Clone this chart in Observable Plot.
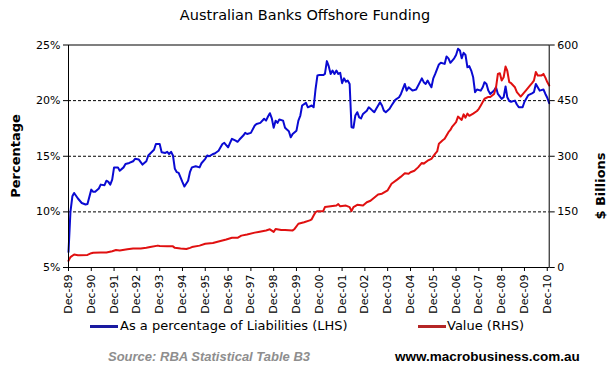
<!DOCTYPE html>
<html>
<head>
<meta charset="utf-8">
<script src="https://cdn.jsdelivr.net/npm/d3@7"></script>
<script src="https://cdn.jsdelivr.net/npm/@observablehq/plot@0.6"></script>
<style>
  html, body { margin: 0; padding: 0; background: #fff; }
  #wrap { position: relative; width: 614px; height: 374px; overflow: hidden; font-family: "DejaVu Sans", Verdana, sans-serif; }
  #chart { position: absolute; left: 0; top: 0; }
  .abs { position: absolute; white-space: nowrap; }
  .rot { transform: translate(-50%, -50%) rotate(-90deg); }
  .sw { position: absolute; height: 3px; }
</style>
</head>
<body>
<div id="wrap">
  <div id="chart"></div>
  <div class="abs" id="title" style="left:0;width:610px;top:7px;text-align:center;font-size:14.5px;color:#000;">Australian Banks Offshore Funding</div>
  <div class="abs rot" style="left:15px;top:156px;font-size:13px;font-weight:bold;color:#000;">Percentage</div>
  <div class="abs rot" style="left:600px;top:186px;font-size:13px;font-weight:bold;color:#000;">$ Billions</div>
  <div class="sw" style="left:90px;top:325px;width:28px;background:#1a1aa0;"></div>
  <div class="abs" style="left:120px;top:318px;font-size:13px;line-height:16px;color:#000;" id="leg1"></div>
  <div class="sw" style="left:418px;top:325px;width:28px;background:#b52626;"></div>
  <div class="abs" style="left:447px;top:318px;font-size:13px;line-height:16px;color:#000;" id="leg2"></div>
  <div class="abs" style="left:108px;top:349px;font-family:'Liberation Sans',Arial,sans-serif;font-size:13px;font-weight:bold;font-style:italic;color:#8e8e8e;line-height:16px;">Source: RBA Statistical Table B3</div>
  <div class="abs" style="left:395px;top:349px;font-family:'Liberation Sans',Arial,sans-serif;font-size:13.5px;font-weight:bold;color:#000;line-height:16px;">www.macrobusiness.com.au</div>
</div>
<script>
// Series names
const seriesNames = ["As a percentage of Liabilities (LHS)", "Value (RHS)"];

// Months since Dec-1989 and percentage of liabilities (LHS)
const blueMonth = [0,1,2,3,5,7,9,10,12,13,14,16,17,19,20,21,22,23,24,26,27,29,30,32,34,35,37,39,41,42,45,46,48,49,51,52,53,54,55,56,57,58,60,61,63,64,65,67,69,70,72,73,74,76,77,79,81,82,84,85,86,88,89,90,92,93,94,96,98,99,101,103,104,105,106,107,108,109,110,111,113,114,115,116,117,118,120,121,122,123,125,126,128,129,130,131,132,134,135,136,137,138,139,140,141,142,143,144,145,146,147,148,149,150,151,152,153,154,155,157,158,159,160,161,162,164,165,166,167,169,170,172,174,175,177,178,179,181,183,185,186,187,188,189,190,191,192,193,195,196,198,199,200,201,203,204,205,206,207,208,209,210,211,212,213,214,215,217,218,219,220,221,222,224,225,226,228,229,230,231,232,233,235,236,237,239,240,242,244,245,246,247,248,250,251,252,253];
const bluePct = [6.4,10.0,11.4,11.7,11.2,10.8,10.66,10.7,12.0,11.8,11.8,12.1,12.45,12.4,12.8,12.7,12.45,12.9,14.0,14.0,13.7,14.0,14.3,14.4,14.55,14.77,14.7,14.25,14.55,15.07,15.58,16.1,16.1,15.36,15.3,15.4,15.2,15.4,15.07,13.87,13.57,13.5,12.67,12.28,12.8,13.6,14.0,14.1,14.0,14.37,14.77,15.07,15.0,15.2,15.25,15.5,16.1,16.2,15.8,16.2,16.57,16.4,16.3,16.5,16.86,17.1,17.0,17.1,17.76,17.9,18.0,18.37,18.2,18.57,18.87,18.4,17.56,18.2,18.0,18.3,18.2,17.56,17.4,17.25,16.7,17.0,17.3,18.2,18.66,19.56,19.8,19.4,19.56,19.4,21.0,22.26,22.3,22.3,22.4,23.55,23.1,22.4,22.7,22.4,22.7,22.4,22.5,21.57,22.0,21.7,21.8,21.5,17.6,17.56,18.66,18.96,18.5,18.4,18.8,19.1,19.4,19.26,19.1,18.96,19.26,19.86,19.56,19.1,18.96,19.26,19.56,20.07,20.3,20.6,21.5,20.9,21.2,20.9,21.0,21.66,22.0,21.66,21.5,21.8,21.5,21.2,22.0,22.4,23.25,23.4,23.3,23.97,23.8,23.4,23.8,24.1,24.66,24.5,23.8,24.3,24.1,23.0,23.1,22.7,22.1,20.76,21.0,20.9,21.2,21.66,21.5,20.9,20.6,20.9,21.2,20.6,20.16,20.3,21.27,20.3,19.97,19.9,20.0,19.65,19.4,19.4,19.9,20.5,20.66,20.76,21.5,21.2,20.9,21.0,20.6,20.26,19.77];

// Months since Dec-1989 and value in $ billions (RHS)
const redMonth = [0,1,3,5,6,10,12,13,17,20,23,25,27,31,34,38,41,43,47,48,52,55,56,59,62,64,65,69,72,76,79,83,86,89,91,94,98,100,104,106,108,109,112,114,118,119,121,124,127,128,129,130,131,134,135,138,141,142,143,146,148,149,150,152,155,157,159,163,165,168,170,173,175,177,179,180,182,184,186,187,189,191,193,194,195,197,198,200,201,202,204,205,207,208,209,210,211,213,215,216,217,219,221,222,224,225,226,227,228,229,230,231,232,233,235,236,238,239,241,243,244,245,246,247,249,250,251,252,253];
const redValue = [18,28,35,33,33,34,38.6,40,40.5,40.5,44,47,46,49,51,51,53,55,59,58,57,57,53,51,50,53,55,59,64,66,70,75.5,80,80,86,89,94,96,100,103,96,104,101,101,100,104,118,122,127,130,140,149,152,152,163,165,167,171,165,167,163,152,163,169,167,176,180,197,199,208,226,237,245,254,253,257,261,270,282,280,288,293,307,313,334,343,347,365,371,380,392,407,398,413,404,415,409,415,422,428,437,455,460,460,468,486,522,524,504,513,542,530,500,497,486,473,461,467,479,491,497,504,527,518,518,522,512,500,491];

// Axis ticks
const leftTicks = [5, 10, 15, 20, 25];
const leftTickLabels = ["5%", "10%", "15%", "20%", "25%"];
const rightTickLabels = ["0", "150", "300", "450", "600"];
const rightMax = 600;
const xTickLabels = ["Dec-89","Dec-90","Dec-91","Dec-92","Dec-93","Dec-94","Dec-95","Dec-96","Dec-97","Dec-98","Dec-99","Dec-00","Dec-01","Dec-02","Dec-03","Dec-04","Dec-05","Dec-06","Dec-07","Dec-08","Dec-09","Dec-10"];

const colors = {blue: "#0a0ad2", red: "#e01010"};

document.getElementById("leg1").textContent = seriesNames[0];
document.getElementById("leg2").textContent = seriesNames[1];

const start = new Date(Date.UTC(1989, 11, 1));
const toDate = m => d3.utcMonth.offset(start, m);
const blue = blueMonth.map((m, i) => ({date: toDate(m), v: bluePct[i]}));
const red = redMonth.map((m, i) => ({date: toDate(m), v: redValue[i]}));
const tickDates = xTickLabels.map((_, k) => toDate(12 * k));

// map RHS values onto the LHS scale (0..600 <-> 5..25)
const yLo = leftTicks[0], yHi = leftTicks[leftTicks.length - 1];
const rhsToLhs = v => yLo + (v / rightMax) * (yHi - yLo);

const chart = Plot.plot({
  width: 614,
  height: 320,
  marginLeft: 68,
  marginRight: 65.3,
  marginTop: 44.5,
  marginBottom: 53,
  style: {fontFamily: "DejaVu Sans, Verdana, sans-serif", fontSize: "11px", color: "#000", background: "transparent"},
  x: {type: "utc", domain: [toDate(0), toDate(253)]},
  y: {domain: [yLo, yHi]},
  marks: [
    Plot.ruleY([10, 15, 20], {stroke: "#000", strokeWidth: 1, strokeDasharray: "3,2"}),
    Plot.line(blue, {x: "date", y: "v", stroke: colors.blue, strokeWidth: 2}),
    Plot.line(red, {x: "date", y: d => rhsToLhs(d.v), stroke: colors.red, strokeWidth: 2}),
    Plot.frame({stroke: "#000", strokeWidth: 1}),
    Plot.axisY(leftTicks, {anchor: "left", tickSize: 5, tickPadding: 3, label: null,
      tickFormat: d => leftTickLabels[leftTicks.indexOf(d)], fill: "#000", stroke: "#000"}),
    Plot.axisY(leftTicks, {anchor: "right", tickSize: 5, tickPadding: 3, label: null,
      tickFormat: d => rightTickLabels[leftTicks.indexOf(d)], fill: "#000", stroke: "#000"}),
    Plot.axisX(tickDates, {anchor: "bottom", tickSize: 4, tickPadding: 3, label: null, tickRotate: -90,
      tickFormat: d => xTickLabels[tickDates.findIndex(t => +t === +d)], fill: "#000", stroke: "#000"})
  ]
});
document.getElementById("chart").appendChild(chart);
</script>
</body>
</html>
